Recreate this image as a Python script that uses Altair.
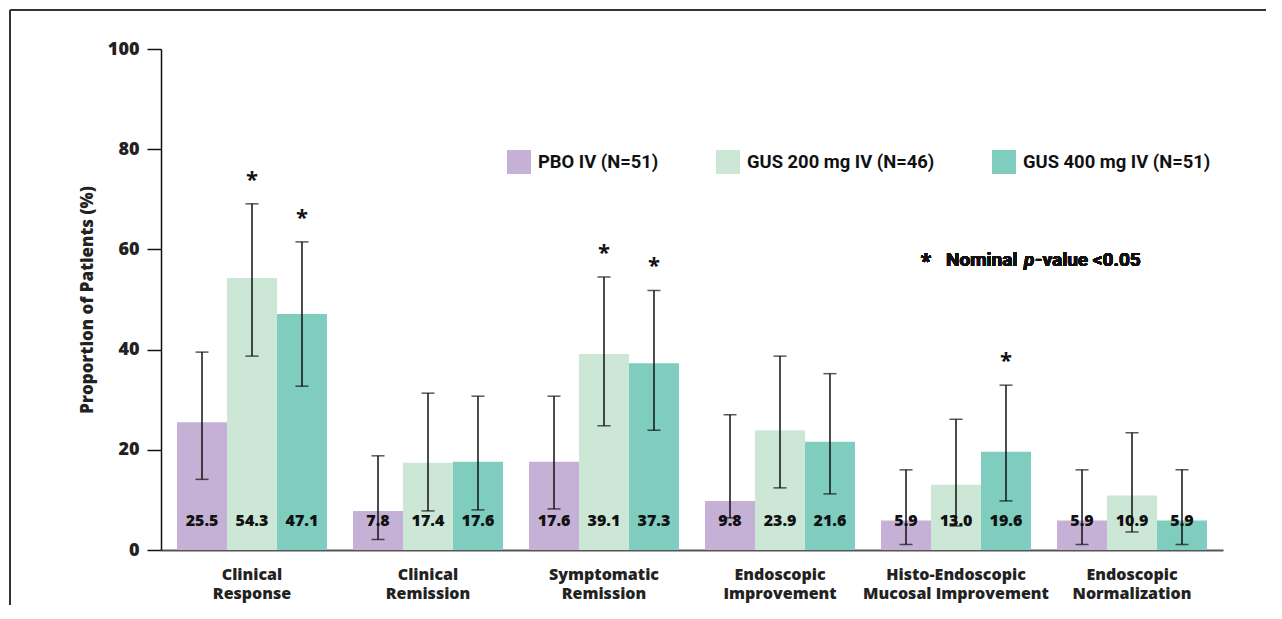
import altair as alt
import pandas as pd

categories = ["Clinical\nResponse", "Clinical\nRemission", "Symptomatic\nRemission",
              "Endoscopic\nImprovement", "Histo-Endoscopic\nMucosal Improvement",
              "Endoscopic\nNormalization"]
groups = ["PBO IV (N=51)", "GUS 200 mg IV (N=46)", "GUS 400 mg IV (N=51)"]
colors = ["#C6B1D6", "#CCE7D6", "#7ECDBE"]

pbo = [25.5, 7.8, 17.6, 9.8, 5.9, 5.9]
gus200 = [54.3, 17.4, 39.1, 23.9, 13.0, 10.9]
gus400 = [47.1, 17.6, 37.3, 21.6, 19.6, 5.9]

pbo_lo = [14.1, 2.1, 8.2, 6.4, 1.1, 1.1]
pbo_hi = [39.5, 18.8, 30.7, 27.0, 16.0, 16.0]
g200_lo = [38.7, 7.8, 24.8, 12.4, 4.8, 3.6]
g200_hi = [69.1, 31.3, 54.5, 38.7, 26.1, 23.4]
g400_lo = [32.7, 8.0, 23.9, 11.2, 9.8, 1.1]
g400_hi = [61.5, 30.7, 51.8, 35.2, 32.9, 16.0]

pbo_sig = [False] * 6
g200_sig = [True, False, True, False, False, False]
g400_sig = [True, False, True, False, True, False]

rows = []
for g, vals, lo, hi, sig in [
    (groups[0], pbo, pbo_lo, pbo_hi, pbo_sig),
    (groups[1], gus200, g200_lo, g200_hi, g200_sig),
    (groups[2], gus400, g400_lo, g400_hi, g400_sig),
]:
    for c, v, l, h, s in zip(categories, vals, lo, hi, sig):
        rows.append({"cat": c, "grp": g, "val": v, "lo": l, "hi": h,
                     "sig": s, "lab": f"{v:.1f}", "star": "*" if s else ""})
df = pd.DataFrame(rows)

W, H = 1062, 501
FONT = "Open Sans"
NARROW = "Roboto"

x_enc = alt.X("cat:N", sort=categories,
              scale=alt.Scale(paddingInner=0.148, paddingOuter=0.091),
              axis=alt.Axis(title=None, labelAngle=0, ticks=False, labelLimit=0,
                            labelExpr="split(datum.label, '\\n')",
                            labelFont=FONT, labelFontSize=16, labelFontWeight=800,
                            labelColor="#222222", labelLineHeight=19, labelPadding=16,
                            domainColor="#555555", domainWidth=2, labelBaseline="top"))
xo = alt.XOffset("grp:N", sort=groups, scale=alt.Scale(paddingInner=0, paddingOuter=0))
y_scale = alt.Scale(domain=[0, 100])

base = alt.Chart(df)

bars = base.mark_bar().encode(
    x=x_enc, xOffset=xo,
    y=alt.Y("val:Q", scale=y_scale,
            axis=alt.Axis(title="Proportion of Patients (%)", values=[0, 20, 40, 60, 80, 100],
                          grid=False, tickSize=14, tickWidth=1.5, tickColor="#111111",
                          domainColor="#111111", domainWidth=1.5,
                          labelFont=FONT, labelFontSize=18, labelFontWeight=800,
                          labelColor="#222222", labelPadding=8,
                          titleFont=FONT, titleFontSize=17, titleFontWeight=800,
                          titleColor="#222222", titlePadding=11)),
    color=alt.Color("grp:N", sort=groups,
                    scale=alt.Scale(domain=groups, range=colors),
                    legend=alt.Legend(title=None, orient="none", legendX=346, legendY=101,
                                      direction="horizontal", symbolType="square",
                                      symbolSize=576, symbolStrokeWidth=0, symbolOpacity=1,
                                      labelFont=NARROW, labelFontSize=18.4, labelLimit=0,
                                      labelFontWeight="bold", labelColor="#111111",
                                      labelOffset=7, columnPadding=57, padding=0)),
)

rules = base.mark_rule(color="#111111", strokeWidth=1.5).encode(
    x=alt.X("cat:N", sort=categories), xOffset=xo,
    y=alt.Y("lo:Q", scale=y_scale), y2="hi:Q")

caps_lo = base.mark_tick(color="#111111", thickness=1.5, size=13, orient="horizontal").encode(
    x=alt.X("cat:N", sort=categories), xOffset=xo, y=alt.Y("lo:Q", scale=y_scale))
caps_hi = base.mark_tick(color="#111111", thickness=1.5, size=13, orient="horizontal").encode(
    x=alt.X("cat:N", sort=categories), xOffset=xo, y=alt.Y("hi:Q", scale=y_scale))

labels = base.mark_text(font=FONT, fontSize=16, fontWeight=800, color="#111111",
                        baseline="middle").encode(
    x=alt.X("cat:N", sort=categories), xOffset=xo, y=alt.value(472), text="lab:N")

stars = base.mark_text(font=FONT, fontSize=22, fontWeight="bold", color="#111111",
                       baseline="alphabetic", dy=-17).encode(
    x=alt.X("cat:N", sort=categories), xOffset=xo,
    y=alt.Y("hi:Q", scale=y_scale), text="star:N")

note_star = alt.Chart(df).mark_text(font=FONT, fontSize=20, fontWeight="bold", color="#111111",
                                    align="center", baseline="middle").encode(
    x=alt.value(765), y=alt.value(213), text=alt.value("*"))
note1 = alt.Chart(df).mark_text(font=NARROW, fontSize=19, fontWeight="bold", color="#111111",
                                align="left", baseline="middle").encode(
    x=alt.value(785), y=alt.value(211), text=alt.value("Nominal"))
note2 = alt.Chart(df).mark_text(font=NARROW, fontSize=19, fontWeight="bold", fontStyle="italic",
                                color="#111111", align="left", baseline="middle").encode(
    x=alt.value(863), y=alt.value(211), text=alt.value("p"))
note3 = alt.Chart(df).mark_text(font=NARROW, fontSize=19, fontWeight="bold", color="#111111",
                                align="left", baseline="middle").encode(
    x=alt.value(874), y=alt.value(211), text=alt.value("-value <0.05"))

frame_top = alt.Chart(df).mark_rule(color="#333333", strokeWidth=2).encode(
    x=alt.value(-151), x2=alt.value(W + 60), y=alt.value(-39))
frame_left = alt.Chart(df).mark_rule(color="#333333", strokeWidth=2).encode(
    x=alt.value(-151), y=alt.value(-39), y2=alt.value(H + 80))

chart = alt.layer(bars, rules, caps_lo, caps_hi, labels, stars,
                  note_star, note1, note2, note3, frame_top, frame_left).properties(
    width=W, height=H,
    autosize=alt.AutoSizeParams(type="none"),
    padding={"left": 153, "top": 41, "right": 43, "bottom": 55},
).configure_view(stroke=None)

chart.save("out.html", embed_options={"renderer": "svg", "actions": False})
